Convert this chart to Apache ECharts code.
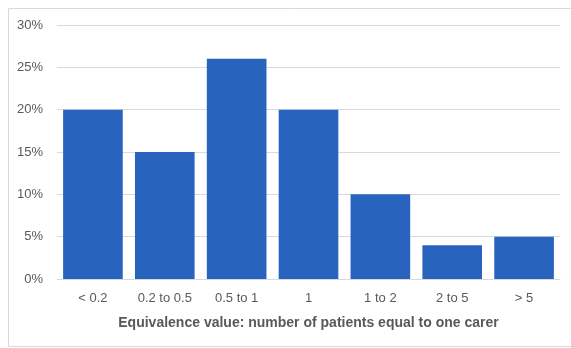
<!DOCTYPE html>
<html><head><meta charset="utf-8">
<script src="https://cdn.jsdelivr.net/npm/echarts@6/dist/echarts.min.js"></script>
<style>html,body{margin:0;padding:0;background:#fff}#c{width:571px;height:348px}</style>
</head><body><div id="c"></div>
<script>
const categories = ['< 0.2','0.2 to 0.5','0.5 to 1','1','1 to 2','2 to 5','> 5'];
const values = [20, 15, 26, 20, 10, 4, 5];
const yTicks = [0, 5, 10, 15, 20, 25, 30];
const xTitle = 'Equivalence value: number of patients equal to one carer';

const chart = echarts.init(document.getElementById('c'), null, {renderer:'canvas'});
chart.setOption({
  animation:false,
  graphic:[{type:'rect', shape:{x:8.5,y:8.5,width:600,height:338}, style:{fill:'none', stroke:'#d9d9d9', lineWidth:1}, silent:true}],
  grid:{left:57, right:11, top:25, bottom:69},
  xAxis:{type:'category', data:categories,
    axisLine:{lineStyle:{color:'#d9d9d9'}}, axisTick:{show:false},
    axisLabel:{color:'#595959', fontFamily:'Liberation Sans', fontSize:13, margin:13},
    name:xTitle, nameLocation:'middle', nameGap:37,
    nameTextStyle:{color:'#595959', fontFamily:'Liberation Sans', fontSize:14, fontWeight:'bold'}},
  yAxis:{type:'value', min:yTicks[0], max:yTicks[yTicks.length-1], interval:5,
    axisLine:{show:false}, axisTick:{show:false},
    splitLine:{lineStyle:{color:'#d9d9d9'}},
    axisLabel:{formatter:'{value}%', color:'#595959', fontFamily:'Liberation Sans', fontSize:13, margin:14}},
  series:[{type:'bar', data:values, barCategoryGap:'17%', itemStyle:{color:'#2864BE'}}]
});
</script></body></html>
